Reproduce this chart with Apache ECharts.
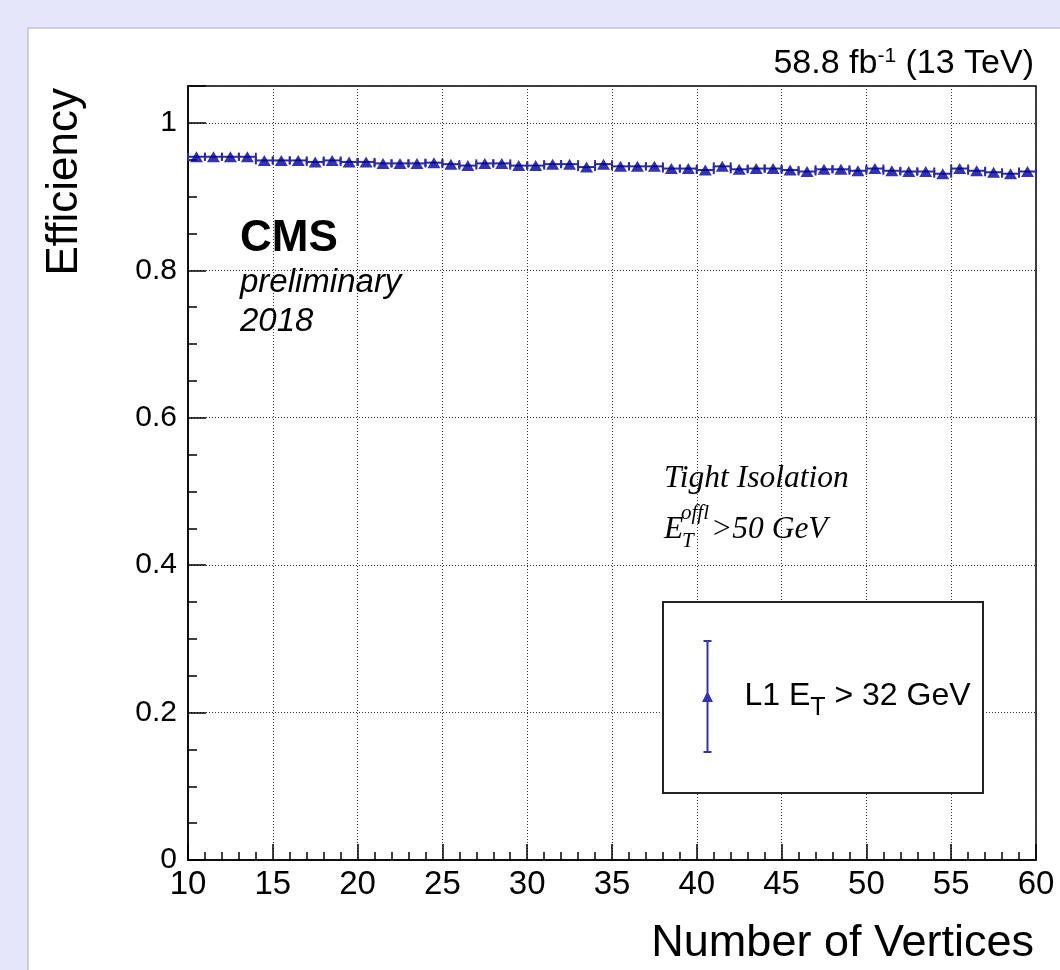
<!DOCTYPE html>
<html>

<head>
    <meta charset="utf-8">
    <title>L1 efficiency vs vertices</title>
    <style>
        html, body {
            margin: 0;
            padding: 0;
            background: #e6e6fa;
        }
        #chart-container {
            width: 1060px;
            height: 970px;
        }
    </style>
    <script src="https://cdn.jsdelivr.net/npm/echarts@6/dist/echarts.min.js"></script>
</head>

<body>
    <div id="chart-container"></div>
    <script>
        // bin centres (number of vertices) and measured efficiency
        const vertexBins = [
            10.5, 11.5, 12.5, 13.5, 14.5, 15.5, 16.5, 17.5, 18.5, 19.5,
            20.5, 21.5, 22.5, 23.5, 24.5, 25.5, 26.5, 27.5, 28.5, 29.5,
            30.5, 31.5, 32.5, 33.5, 34.5, 35.5, 36.5, 37.5, 38.5, 39.5,
            40.5, 41.5, 42.5, 43.5, 44.5, 45.5, 46.5, 47.5, 48.5, 49.5,
            50.5, 51.5, 52.5, 53.5, 54.5, 55.5, 56.5, 57.5, 58.5, 59.5
        ];
        const efficiency = [
            0.954, 0.954, 0.954, 0.954, 0.949, 0.949, 0.949, 0.947, 0.949, 0.947,
            0.947, 0.945, 0.945, 0.945, 0.946, 0.944, 0.942, 0.945, 0.945, 0.942,
            0.942, 0.944, 0.944, 0.940, 0.944, 0.941, 0.941, 0.941, 0.938, 0.938,
            0.936, 0.941, 0.937, 0.938, 0.938, 0.936, 0.934, 0.937, 0.937, 0.935,
            0.938, 0.935, 0.934, 0.934, 0.931, 0.938, 0.935, 0.933, 0.931, 0.934
        ];
        const binHalfWidth = 0.5;
        const seriesName = 'L1 ET > 32 GeV';

        const xMajorTicks = [10, 15, 20, 25, 30, 35, 40, 45, 50, 55, 60];
        const yMajorTicks = [0, 0.2, 0.4, 0.6, 0.8, 1];

        const sans = 'Liberation Sans, Arial, Helvetica, sans-serif';
        const serif = 'Liberation Serif, Times New Roman, serif';
        const markColor = '#000099';
        const barColor = '#2a2aa6';

        const points = vertexBins.map((v, i) => [v, efficiency[i]]);

        var dom = document.getElementById('chart-container');
        var myChart = echarts.init(dom, null, { renderer: 'canvas' });

        var option = {
            backgroundColor: '#e6e6fa',
            animation: false,
            grid: {
                left: 188,
                right: 24,
                top: 86,
                bottom: 110,
                show: true,
                borderColor: '#000',
                borderWidth: 1.5,
                backgroundColor: 'transparent'
            },
            xAxis: [
                {
                    type: 'value',
                    min: 10,
                    max: 60,
                    interval: 5,
                    axisLine: { show: true, lineStyle: { color: '#000', width: 1.5 } },
                    axisTick: { show: true, inside: true, length: 16, lineStyle: { color: '#000', width: 1.5 } },
                    axisLabel: {
                        color: '#000', fontFamily: sans, fontSize: 33, margin: 8,
                        formatter: v => (xMajorTicks.indexOf(v) >= 0 ? String(v) : '')
                    },
                    splitLine: { show: true, lineStyle: { color: '#333', width: 1, type: [1, 2] } }
                },
                {
                    // minor ticks every vertex
                    type: 'value',
                    position: 'bottom',
                    min: 10,
                    max: 60,
                    interval: 1,
                    axisLine: { show: false },
                    axisTick: { show: true, inside: true, length: 8, lineStyle: { color: '#000', width: 1.5 } },
                    axisLabel: { show: false },
                    splitLine: { show: false }
                }
            ],
            yAxis: [
                {
                    type: 'value',
                    min: 0,
                    max: 1.05,
                    interval: 0.2,
                    axisLine: { show: true, lineStyle: { color: '#000', width: 1.5 } },
                    axisTick: { show: true, inside: true, length: 18, lineStyle: { color: '#000', width: 1.5 } },
                    axisLabel: {
                        color: '#000', fontFamily: sans, fontSize: 30, margin: 11,
                        formatter: v => {
                            const hit = yMajorTicks.find(t => Math.abs(t - v) < 1e-6);
                            return hit === undefined ? '' : String(hit);
                        }
                    },
                    splitLine: { show: true, lineStyle: { color: '#333', width: 1, type: [1, 2] } }
                },
                {
                    type: 'value',
                    position: 'left',
                    min: 0,
                    max: 1.05,
                    interval: 0.05,
                    axisLine: { show: false },
                    axisTick: { show: true, inside: true, length: 9, lineStyle: { color: '#000', width: 1.5 } },
                    axisLabel: { show: false },
                    splitLine: { show: false }
                }
            ],
            legend: {
                data: [seriesName],
                left: 697,
                top: 635,
                orient: 'vertical',
                selectedMode: false,
                itemWidth: 12,
                itemHeight: 113,
                icon: 'path://M2,0H10V2H2Z M5,0H7V113H5Z M2,111H10V113H2Z M0.5,62L6,51L11.5,62Z',
                formatter: () => '{gap|}{a|L1 E}{s|T}{a| > 32 GeV}',
                textStyle: {
                    color: '#000',
                    fontFamily: sans,
                    rich: {
                        gap: { width: 26 },
                        a: { fontSize: 32, fontFamily: sans, color: '#000' },
                        s: { fontSize: 25, fontFamily: sans, color: '#000', padding: [24, 0, 0, 0] }
                    }
                }
            },
            graphic: [
                {
                    type: 'rect', z: -10,
                    shape: { x: 28, y: 28, width: 1040, height: 950 },
                    style: { fill: '#fff', stroke: '#c4c4cc', lineWidth: 1.5 }
                },
                {
                    type: 'rect', z: 3,
                    shape: { x: 663, y: 602, width: 320, height: 191 },
                    style: { fill: '#fff', stroke: '#222', lineWidth: 2 }
                },
                {
                    type: 'text', z: 5, x: 1034, y: 64,
                    style: {
                        text: '{a|58.8 fb}{p|-1}{a| (13 TeV)}',
                        align: 'right', verticalAlign: 'middle',
                        rich: {
                            a: { fontSize: 34, fontFamily: sans, fill: '#000' },
                            p: { fontSize: 21, fontFamily: sans, fill: '#000', padding: [0, 0, 16, 0] }
                        }
                    }
                },
                {
                    type: 'text', z: 5, x: 65, y: 88, rotation: Math.PI / 2,
                    style: {
                        text: 'Efficiency', font: '44px ' + sans, fill: '#000',
                        align: 'right', verticalAlign: 'middle'
                    }
                },
                {
                    type: 'text', z: 5, x: 1034, y: 944,
                    style: {
                        text: 'Number of Vertices', font: '45px ' + sans, fill: '#000',
                        align: 'right', verticalAlign: 'middle'
                    }
                },
                {
                    type: 'text', z: 5, x: 240, y: 239,
                    style: { text: 'CMS', font: 'bold 44px ' + sans, fill: '#000', verticalAlign: 'middle' }
                },
                {
                    type: 'text', z: 5, x: 240, y: 283,
                    style: { text: 'preliminary', font: 'italic 33px ' + sans, fill: '#000', verticalAlign: 'middle' }
                },
                {
                    type: 'text', z: 5, x: 240, y: 322,
                    style: { text: '2018', font: 'italic 33px ' + sans, fill: '#000', verticalAlign: 'middle' }
                },
                {
                    type: 'text', z: 5, x: 664, y: 479,
                    style: { text: 'Tight Isolation', font: 'italic 31.5px ' + serif, fill: '#000', verticalAlign: 'middle' }
                },
                {
                    type: 'text', z: 5, x: 664, y: 530,
                    style: { text: 'E', font: 'italic 31.5px ' + serif, fill: '#000', verticalAlign: 'middle' }
                },
                {
                    type: 'text', z: 5, x: 681, y: 513,
                    style: { text: 'offl', font: 'italic 21px ' + serif, fill: '#000', verticalAlign: 'middle' }
                },
                {
                    type: 'text', z: 5, x: 682, y: 541,
                    style: { text: 'T', font: 'italic 21px ' + serif, fill: '#000', verticalAlign: 'middle' }
                },
                {
                    type: 'text', z: 5, x: 711, y: 530,
                    style: { text: '>50 GeV', font: 'italic 31.5px ' + serif, fill: '#000', verticalAlign: 'middle' }
                }
            ],
            series: [
                {
                    name: 'xerr',
                    type: 'custom',
                    xAxisIndex: 0,
                    yAxisIndex: 0,
                    z: 2,
                    data: points,
                    renderItem: function (params, api) {
                        var x = api.value(0);
                        var y = api.value(1);
                        var p0 = api.coord([x - binHalfWidth, y]);
                        var p1 = api.coord([x + binHalfWidth, y]);
                        var cap = 4;
                        var st = { stroke: barColor, lineWidth: 2 };
                        return {
                            type: 'group',
                            children: [
                                { type: 'line', shape: { x1: p0[0], y1: p0[1], x2: p1[0], y2: p1[1] }, style: st },
                                { type: 'line', shape: { x1: p0[0], y1: p0[1] - cap, x2: p0[0], y2: p0[1] + cap }, style: st },
                                { type: 'line', shape: { x1: p1[0], y1: p1[1] - cap, x2: p1[0], y2: p1[1] + cap }, style: st }
                            ]
                        };
                    }
                },
                {
                    name: seriesName,
                    type: 'scatter',
                    xAxisIndex: 0,
                    yAxisIndex: 0,
                    z: 3,
                    symbol: 'triangle',
                    symbolSize: [13, 11],
                    itemStyle: { color: markColor },
                    data: points
                }
            ]
        };

        if (option && typeof option === 'object') {
            myChart.setOption(option);
        }

        window.addEventListener('resize', myChart.resize);
    </script>
</body>

</html>
